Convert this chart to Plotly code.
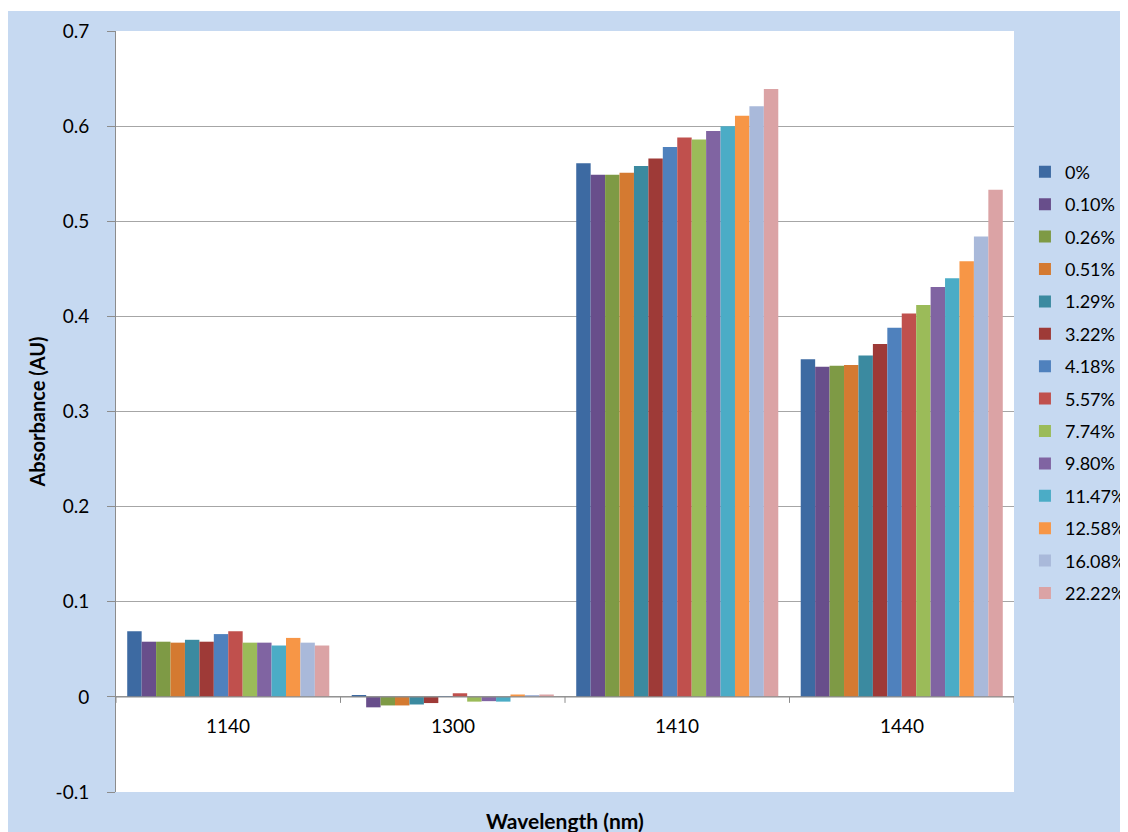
import plotly.graph_objects as go

categories = ["1140", "1300", "1410", "1440"]
series_names = ["0%", "0.10%", "0.26%", "0.51%", "1.29%", "3.22%", "4.18%",
                "5.57%", "7.74%", "9.80%", "11.47%", "12.58%", "16.08%", "22.22%"]
# values per series across the 4 wavelengths
values = {
    "0%":     [0.069, 0.001, 0.561, 0.355],
    "0.10%":  [0.058, -0.011, 0.549, 0.347],
    "0.26%":  [0.058, -0.009, 0.549, 0.348],
    "0.51%":  [0.057, -0.009, 0.551, 0.349],
    "1.29%":  [0.060, -0.008, 0.558, 0.359],
    "3.22%":  [0.058, -0.0065, 0.566, 0.371],
    "4.18%":  [0.066, 0.0005, 0.578, 0.388],
    "5.57%":  [0.069, 0.0038, 0.588, 0.403],
    "7.74%":  [0.057, -0.005, 0.586, 0.412],
    "9.80%":  [0.057, -0.0045, 0.595, 0.431],
    "11.47%": [0.054, -0.005, 0.600, 0.440],
    "12.58%": [0.062, 0.0025, 0.611, 0.458],
    "16.08%": [0.057, 0.001, 0.621, 0.484],
    "22.22%": [0.054, 0.0025, 0.639, 0.533],
}
colors = ["#3D6AA2", "#684E8B", "#7E9A45", "#D47A31", "#3B8AA0", "#9E3A37", "#4F81BD",
          "#C0504D", "#9BBB59", "#8064A2", "#4BACC6", "#F79646", "#A9B9DA", "#DBA3A5"]

y_tickvals = [-0.1, 0, 0.1, 0.2, 0.3, 0.4, 0.5, 0.6, 0.7]
y_ticktext = ["-0.1", "0", "0.1", "0.2", "0.3", "0.4", "0.5", "0.6", "0.7"]

FONT = "Lato"
H = 761  # plot-area height in px
fig = go.Figure()
for name, col in zip(series_names, colors):
    fig.add_trace(go.Bar(x=categories, y=values[name], name=name,
                         marker=dict(color=col, line=dict(width=0)),
                         legendgroup=name))

# category labels placed at the zero line (Excel style)
for i, c in enumerate(categories):
    fig.add_annotation(x=i, y=0, xref="x", yref="y", text=c, showarrow=False,
                       yshift=-29, font=dict(family=FONT, size=19, color="#000000"))

# small tick marks on zero line at category boundaries
for i in range(len(categories) + 1):
    fig.add_shape(type="line", xref="x", yref="y", x0=i - 0.5, x1=i - 0.5,
                  ysizemode="pixel", yanchor=0, y0=0, y1=-6,
                  line=dict(color="#8C8C8C", width=1))
# zero line
fig.add_shape(type="line", xref="paper", yref="y", x0=0, x1=1, y0=0, y1=0,
              line=dict(color="#8C8C8C", width=1.2))

# thin white strip at very top of image
fig.add_shape(type="rect", xref="paper", yref="paper", x0=-1, x1=2,
              y0=1 + 20 / H, y1=1 + 30 / H, fillcolor="white", line=dict(width=0),
              layer="below")

# x axis title
fig.add_annotation(x=0.5, y=-(812 - 784) / H, xref="paper", yref="paper",
                   text="<b>Wavelength (nm)</b>", showarrow=False, yanchor="middle",
                   font=dict(family=FONT, size=21, color="#000000"))

fig.update_layout(
    width=1120, height=824,
    margin=dict(l=108, r=114, t=23, b=40, autoexpand=False),
    paper_bgcolor="#C6D9F1",
    plot_bgcolor="white",
    barmode="group",
    bargap=0.1,
    bargroupgap=0,
    font=dict(family=FONT, size=17, color="#000000"),
    showlegend=True,
    legend=dict(x=1.0122, xanchor="left", y=0.538, yanchor="middle",
                bgcolor="rgba(0,0,0,0)", font=dict(family=FONT, size=18),
                tracegroupgap=6, itemwidth=30),
    xaxis=dict(type="category", showticklabels=False, ticks="", showgrid=False,
               showline=False, zeroline=False, automargin=False,
               range=[-0.5, 3.5]),
    yaxis=dict(range=[-0.1, 0.7], tickvals=y_tickvals, ticktext=y_ticktext,
               showgrid=True, gridcolor="#A6A6A6", gridwidth=1,
               zeroline=False, showline=True, linecolor="#8C8C8C", linewidth=1,
               ticks="outside", ticklen=8, tickcolor="#8C8C8C",
               ticklabelstandoff=14, automargin=False,
               tickfont=dict(family=FONT, size=19),
               title=dict(text="<b>Absorbance (AU)</b>", standoff=4,
                          font=dict(family=FONT, size=20))),
)
fig.write_html("out.html")
